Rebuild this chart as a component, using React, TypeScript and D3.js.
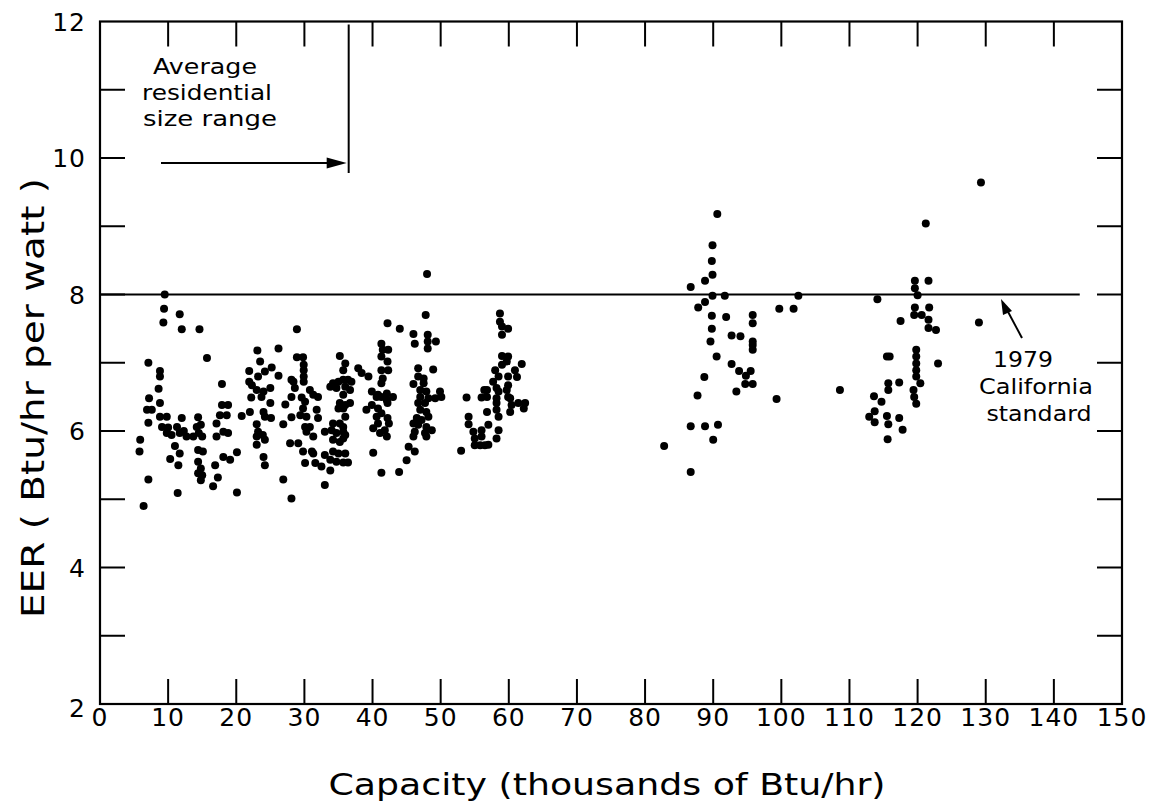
import React from "react";
import * as d3 from "d3";

type P = [number, number];

// Capacity (thousands Btu/hr), EER (Btu/hr per watt)
const smallUnits: P[] = [
  [9.5, 8.0], [9.4, 7.79], [11.7, 7.71], [9.3, 7.59], [12.0, 7.49], [14.6, 7.49], [15.7, 7.07],
  [7.1, 7.0], [8.8, 6.88], [8.8, 6.8], [8.6, 6.62], [7.2, 6.48], [8.8, 6.41], [6.9, 6.31], [7.6, 6.31],
  [7.1, 6.12], [8.8, 6.21], [9.8, 6.21], [12.0, 6.19], [14.4, 6.2],
  [9.1, 6.06], [9.8, 5.97], [11.3, 6.06], [11.7, 5.97], [10.5, 5.94], [12.7, 5.92], [13.7, 5.92],
  [14.2, 6.06], [10.0, 6.05], [12.3, 6.0],
  [5.9, 5.87], [5.8, 5.7], [11.0, 5.78], [11.7, 5.67], [10.3, 5.59], [11.5, 5.5],
  [14.8, 6.09], [14.5, 5.97], [15.0, 5.92], [14.4, 5.72], [15.1, 5.7], [14.4, 5.55], [14.8, 5.45],
  [14.4, 5.38], [15.0, 5.35], [14.8, 5.28],
  [7.1, 5.29], [11.4, 5.09], [6.4, 4.9],
];

const group20s: P[] = [
  [17.9, 6.69], [23.1, 7.18], [26.2, 7.21], [23.5, 7.02], [25.2, 6.93], [24.2, 6.87], [23.2, 6.8],
  [21.9, 6.88], [26.2, 6.81], [21.9, 6.72], [22.3, 6.67], [23.0, 6.6], [24.0, 6.58], [25.0, 6.63],
  [23.7, 6.5], [22.2, 6.49], [25.0, 6.41], [27.2, 6.39], [28.1, 6.75], [28.1, 6.5],
  [17.9, 6.38], [18.8, 6.38], [17.6, 6.23], [18.6, 6.23], [17.1, 6.11], [20.8, 6.22], [22.0, 6.28],
  [24.0, 6.28], [24.2, 6.21], [25.1, 6.19], [26.9, 6.1], [28.1, 6.2],
  [23.0, 6.1], [23.2, 5.99], [23.9, 5.94], [23.0, 5.92], [24.2, 5.87], [23.0, 5.8],
  [18.1, 5.99], [18.8, 5.97], [17.1, 5.92], [20.1, 5.69], [18.1, 5.62], [19.1, 5.58], [16.9, 5.5],
  [17.3, 5.32], [16.6, 5.19], [24.0, 5.62], [24.2, 5.5], [26.9, 5.29], [20.1, 5.1], [28.1, 5.01],
];

const group30s: P[] = [
  [28.9, 7.49], [28.9, 7.08], [29.8, 7.08], [29.9, 6.97], [29.9, 6.89], [29.9, 6.8], [29.9, 6.72],
  [28.4, 6.72], [28.6, 6.63],
  [35.2, 7.1], [36.0, 6.99], [35.7, 6.89], [37.9, 6.92], [38.4, 6.85], [39.4, 6.8],
  [34.2, 6.7], [35.0, 6.72], [35.7, 6.75], [36.4, 6.75], [36.9, 6.72], [33.8, 6.65], [34.7, 6.63],
  [36.0, 6.65], [36.7, 6.6],
  [35.7, 6.53], [35.2, 6.41], [36.0, 6.38], [36.7, 6.41], [35.0, 6.33], [35.7, 6.33],
  [36.0, 6.21], [34.2, 6.11], [35.2, 6.11], [35.7, 6.06],
  [33.0, 5.99], [34.0, 6.01], [34.7, 5.97], [35.7, 5.99], [36.0, 5.94], [34.2, 5.87], [35.2, 5.84],
  [35.7, 5.89],
  [33.0, 5.65], [34.2, 5.7], [35.0, 5.67], [36.0, 5.67], [33.8, 5.58], [34.7, 5.55], [35.7, 5.54],
  [36.4, 5.54], [32.5, 5.48], [33.8, 5.42], [33.0, 5.21],
  [29.6, 6.49], [30.1, 6.43], [30.8, 6.6], [31.3, 6.53], [32.0, 6.5], [29.8, 6.33], [29.4, 6.23],
  [30.3, 6.21], [31.8, 6.31], [32.0, 6.19],
  [30.1, 6.06], [30.8, 6.06], [30.3, 5.99], [31.3, 5.92], [27.9, 5.82], [29.1, 5.82], [29.8, 5.7],
  [31.1, 5.7], [31.3, 5.67], [30.1, 5.53], [31.6, 5.53],
];

const group40s: P[] = [
  [42.2, 7.58], [41.3, 7.28], [41.5, 7.19], [41.3, 7.09], [42.2, 7.02], [41.3, 6.89], [41.5, 6.77],
  [41.3, 6.7], [39.9, 6.58], [40.8, 6.53], [40.6, 6.5], [41.3, 6.5], [42.1, 6.55], [42.1, 6.45],
  [39.9, 6.38], [40.8, 6.33], [41.3, 6.26], [39.1, 6.31],
  [40.6, 6.21], [40.8, 6.11], [40.1, 6.04], [41.1, 5.97], [41.8, 6.01], [42.1, 5.92], [40.1, 5.68],
  [41.3, 5.39], [42.2, 6.41], [42.2, 6.19], [42.4, 6.11], [42.3, 6.89], [42.3, 7.19],
  [43.0, 6.5], [43.9, 5.4], [44.0, 7.5], [46.0, 7.42], [46.2, 7.28],
  [48.0, 8.3], [47.8, 7.7], [48.1, 7.41], [48.1, 7.31], [48.1, 7.21], [49.3, 7.31],
  [46.7, 6.92], [48.9, 6.9], [46.7, 6.8], [47.5, 6.77], [46.0, 6.69], [47.5, 6.7], [47.0, 6.6],
  [47.9, 6.58], [49.9, 6.58], [50.1, 6.5], [47.0, 6.5], [48.2, 6.48], [49.2, 6.48], [46.7, 6.41],
  [47.7, 6.41], [47.0, 6.31], [47.9, 6.28], [48.2, 6.21], [46.5, 6.19], [47.2, 6.16], [46.0, 6.11],
  [46.7, 6.09], [47.9, 6.06], [48.7, 6.01], [46.2, 5.99], [47.7, 5.97], [46.0, 5.92], [47.9, 5.92],
  [45.3, 5.77], [46.2, 5.7], [45.0, 5.57],
];

const group50s: P[] = [
  [53.8, 6.49], [56.0, 6.49], [56.4, 6.6], [54.1, 6.21], [54.1, 6.1], [54.8, 5.99], [55.0, 5.89],
  [55.8, 5.79], [55.0, 5.79], [53.0, 5.71],
  [58.7, 7.72], [58.7, 7.6], [59.0, 7.53], [59.9, 7.5], [59.0, 7.41],
  [59.0, 7.1], [59.9, 7.09], [59.7, 7.02], [59.0, 6.97], [61.9, 6.98], [60.9, 6.89], [61.2, 6.79],
  [58.0, 6.89], [58.5, 6.8], [59.9, 6.8], [57.7, 6.72], [58.2, 6.63], [59.9, 6.67],
  [56.8, 6.6], [58.5, 6.58], [59.7, 6.6], [59.9, 6.5], [56.8, 6.5], [58.2, 6.48], [60.2, 6.48],
  [58.2, 6.41], [60.4, 6.38], [61.4, 6.41], [62.4, 6.41], [62.2, 6.33], [60.2, 6.28], [58.2, 6.31],
  [56.8, 6.28], [58.5, 6.21], [57.0, 6.09], [56.0, 6.01], [58.5, 6.01], [58.2, 5.89],
  [56.0, 5.92], [56.5, 5.79], [57.0, 5.8],
];

const group90s: P[] = [
  [90.6, 9.18], [89.9, 8.72], [89.8, 8.49], [89.9, 8.29], [88.8, 8.2], [86.7, 8.11], [89.9, 7.98],
  [91.7, 7.98], [102.5, 7.98], [88.8, 7.89], [87.8, 7.81], [99.7, 7.79], [101.8, 7.79], [89.8, 7.69],
  [91.9, 7.67], [95.8, 7.7], [95.8, 7.58], [89.8, 7.5], [92.7, 7.4], [94.0, 7.39], [89.6, 7.31],
  [95.8, 7.31], [95.8, 7.26], [95.8, 7.19], [90.5, 7.09], [92.7, 6.98], [93.8, 6.88], [94.8, 6.81],
  [95.5, 6.88], [94.7, 6.69], [95.8, 6.69], [93.4, 6.58], [88.7, 6.79], [87.7, 6.52], [99.3, 6.47],
  [108.6, 6.6], [86.7, 6.07], [88.8, 6.07], [90.7, 6.09], [90.0, 5.87], [82.8, 5.78], [86.7, 5.4],
];

const group120s: P[] = [
  [129.3, 9.64], [121.2, 9.04], [119.6, 8.2], [121.6, 8.2], [119.6, 8.09], [120.0, 7.99], [114.1, 7.93],
  [119.6, 7.81], [121.7, 7.81], [119.5, 7.7], [120.6, 7.7], [117.5, 7.61], [121.6, 7.63], [121.6, 7.51],
  [122.7, 7.48], [129.0, 7.59], [115.5, 7.09], [115.9, 7.09], [119.8, 7.19], [119.8, 7.09],
  [119.8, 6.99], [119.8, 6.89], [119.8, 6.8], [123.0, 6.99], [115.7, 6.7], [115.7, 6.6], [117.3, 6.71],
  [120.4, 6.7], [119.4, 6.6], [119.5, 6.5], [119.8, 6.4], [113.6, 6.51], [114.7, 6.43], [112.9, 6.21],
  [113.7, 6.29], [113.7, 6.13], [115.5, 6.22], [115.7, 6.1], [117.3, 6.19], [117.8, 6.02], [115.6, 5.88],
];

const xTicks = d3.range(0, 151, 10);
const yTicksMinor = d3.range(2, 13, 1);
const yTickLabels = [2, 4, 6, 8, 10, 12];
const standardEER = 8;
const standardEnd = 143.8;
const residentialMax = 36.5;

const FONT = "'DejaVu Sans', sans-serif";

export default function App() {
  const x = d3.scaleLinear().domain([0, 150]).range([100, 1122]);
  const y = d3.scaleLinear().domain([2, 12]).range([704, 21.5]);
  const all = [...smallUnits, ...group20s, ...group30s, ...group40s, ...group50s, ...group90s, ...group120s];
  const tl = 25;
  const [x0, x1] = x.range();
  const [y0, y1] = [y(2), y(12)];

  return (
    <svg width={1156} height={807} style={{ position: "absolute", left: 0, top: 0, background: "#fff" }}>
      {/* frame */}
      <rect x={x0} y={y1} width={x1 - x0} height={y0 - y1} fill="none" stroke="#000" strokeWidth={2.2} />
      {/* x ticks */}
      {xTicks.slice(1, -1).map((t) => (
        <g key={"xt" + t}>
          <line x1={x(t)} x2={x(t)} y1={y0} y2={y0 - tl} stroke="#000" strokeWidth={2} />
          <line x1={x(t)} x2={x(t)} y1={y1} y2={y1 + tl} stroke="#000" strokeWidth={2} />
        </g>
      ))}
      {xTicks.map((t) => (
        <text key={"xl" + t} x={x(t)} y={726} textAnchor="middle" fontFamily={FONT} fontSize={25}
          letterSpacing={1}>
          {t}
        </text>
      ))}
      {/* y ticks */}
      {yTicksMinor.slice(1, -1).map((t) => (
        <g key={"yt" + t}>
          <line x1={x0} x2={x0 + tl} y1={y(t)} y2={y(t)} stroke="#000" strokeWidth={2} />
          <line x1={x1} x2={x1 - tl} y1={y(t)} y2={y(t)} stroke="#000" strokeWidth={2} />
        </g>
      ))}
      {yTickLabels.map((t) => (
        <text key={"yl" + t} x={86} y={y(t) + (t === 2 ? 4 : 0)} dy="0.36em" textAnchor="end"
          fontFamily={FONT} fontSize={25} letterSpacing={1}>
          {t}
        </text>
      ))}
      {/* axis titles */}
      <text x={607} y={795} textAnchor="middle" fontFamily={FONT} fontSize={30}
        textLength={557} lengthAdjust="spacingAndGlyphs">
        Capacity (thousands of Btu/hr)
      </text>
      <text transform={`translate(44,398) rotate(-90)`} textAnchor="middle" fontFamily={FONT}
        fontSize={32} textLength={440} lengthAdjust="spacingAndGlyphs">
        EER ( Btu/hr per watt )
      </text>
      {/* 1979 standard line */}
      <line x1={x(0)} x2={x(standardEnd)} y1={y(standardEER)} y2={y(standardEER)} stroke="#000" strokeWidth={2} />
      {/* residential range */}
      <line x1={x(residentialMax)} x2={x(residentialMax)} y1={y(12) + 3} y2={y(9.78)} stroke="#000" strokeWidth={2} />
      <line x1={161} x2={x(residentialMax) - 18} y1={163} y2={163} stroke="#000" strokeWidth={2} />
      <path d={`M${x(residentialMax) - 2},163 L${x(residentialMax) - 22},157.5 L${x(residentialMax) - 22},168.5 Z`} fill="#000" />
      <g fontFamily={FONT} fontSize={21} textAnchor="middle">
        <text x={205} y={74} textLength={104} lengthAdjust="spacingAndGlyphs">Average</text>
        <text x={207} y={100} textLength={130} lengthAdjust="spacingAndGlyphs">residential</text>
        <text x={210} y={126} textLength={134} lengthAdjust="spacingAndGlyphs">size range</text>
      </g>
      {/* California annotation */}
      <line x1={1022} y1={338} x2={1006} y2={308} stroke="#000" strokeWidth={2} />
      <path d="M1001,299 L1012,311 L1003,315 Z" fill="#000" />
      <g fontFamily={FONT} fontSize={22} textAnchor="middle">
        <text x={1023} y={367} textLength={60} lengthAdjust="spacingAndGlyphs">1979</text>
        <text x={1036} y={394} textLength={114} lengthAdjust="spacingAndGlyphs">California</text>
        <text x={1039} y={421} textLength={105} lengthAdjust="spacingAndGlyphs">standard</text>
      </g>
      {/* points */}
      <g fill="#000">
        {all.map((p, i) => (
          <circle key={i} cx={x(p[0])} cy={y(p[1])} r={4} />
        ))}
      </g>
    </svg>
  );
}
